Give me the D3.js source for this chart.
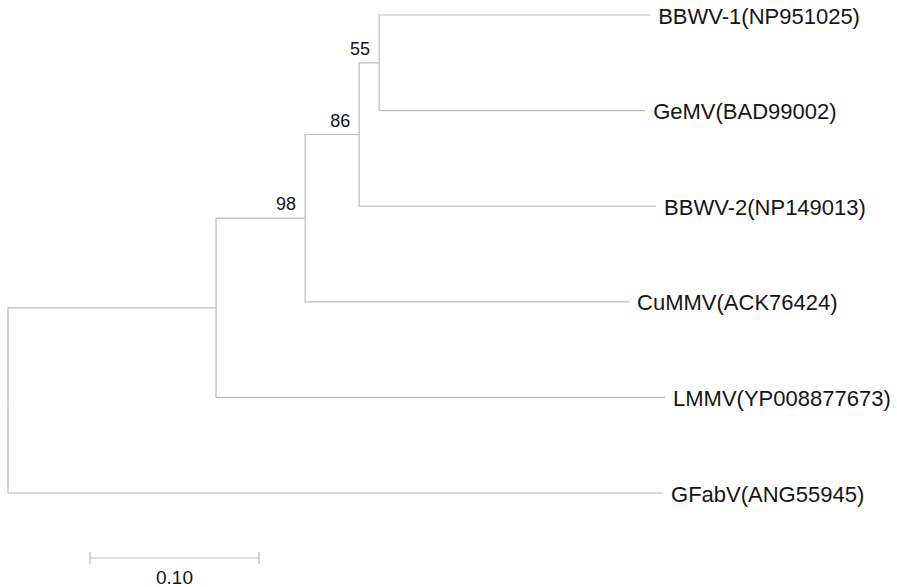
<!DOCTYPE html>
<html>
<head>
<meta charset="utf-8">
<style>
body { margin:0; background:#fff; }
svg { display:block; }
.branch { fill:none; stroke:#bdbdbd; stroke-width:1.2; }
.leaf { font-family:"Liberation Sans", Arial, Helvetica, sans-serif; font-size:22px; fill:#151515; }
.boot { font-family:"Liberation Sans", Arial, Helvetica, sans-serif; font-size:18px; fill:#151515; }
</style>
<script src="https://cdn.jsdelivr.net/npm/d3@7/dist/d3.min.js"></script>
</head>
<body>
<div id="tree"></div>
<script>
var width = 897
var height = 587

// tree as parent links, branch lengths (substitutions/site), bootstrap
var nodeIds = ["root", "n1", "n98", "n86", "n55",
  "BBWV-1(NP951025)", "GeMV(BAD99002)", "BBWV-2(NP149013)",
  "CuMMV(ACK76424)", "LMMV(YP008877673)", "GFabV(ANG55945)"]
var parentIds = ["", "root", "n1", "n98", "n86",
  "n55", "n55", "n86", "n98", "n1", "root"]
var branchLengths = [0, 0.1231, 0.0527, 0.0320, 0.0118,
  0.1604, 0.1574, 0.1757, 0.1917, 0.2657, 0.3876]
var bootstrap = [null, null, 98, 86, 55, null, null, null, null, null, null]
var scaleBarValue = 0.10
var scaleBarLabel = "0.10"

var rows = nodeIds.map(function(id, i) {
  return { id: id, parent: parentIds[i], len: branchLengths[i], boot: bootstrap[i] }
})

var root = d3.stratify()
  .id(function(d) { return d.id })
  .parentId(function(d) { return d.parent || null })(rows)

// cumulative distance from root
root.eachBefore(function(n) {
  n.dist = n.parent ? n.parent.dist + n.data.len : 0
})

var x = d3.scaleLinear()
  .domain([0, 0.1])
  .range([8, 177])

var leaves = root.leaves()
var y = d3.scalePoint()
  .domain(leaves.map(function(d) { return d.id }))
  .range([15, 493])

root.eachAfter(function(n) {
  n.px = x(n.dist)
  if (!n.children) n.py = y(n.id)
  else n.py = (n.children[0].py + n.children[n.children.length - 1].py) / 2
})

var svg = d3.select('#tree').append("svg")
  .attr("width", width)
  .attr("height", height)

svg.append("g").selectAll("path")
  .data(root.descendants().slice(1))
  .enter().append("path")
  .attr("class", "branch")
  .attr("d", function(d) {
    return "M" + d.parent.px + "," + d.parent.py + "V" + d.py + "H" + d.px
  })

svg.append("g").selectAll("text")
  .data(leaves)
  .enter().append("text")
  .attr("class", "leaf")
  .attr("x", function(d) { return d.px + 8 })
  .attr("y", function(d) { return d.py + 8.5 })
  .text(function(d) { return d.id })

svg.append("g").selectAll("text")
  .data(root.descendants().filter(function(d) { return d.data.boot != null }))
  .enter().append("text")
  .attr("class", "boot")
  .attr("text-anchor", "end")
  .attr("x", function(d) { return d.px - 9 })
  .attr("y", function(d) { return d.py - 8 })
  .text(function(d) { return d.data.boot })

// scale bar
var sb = svg.append("g").attr("transform", "translate(" + (90 - x(0)) + ",558)")
var x0 = x(0), x1 = x(scaleBarValue)
sb.append("path")
  .attr("class", "branch")
  .attr("d", "M" + x0 + ",0H" + x1 + "M" + x0 + ",-6V6M" + x1 + ",-6V6")
sb.append("text")
  .attr("class", "boot")
  .style("font-size", "19px")
  .attr("text-anchor", "middle")
  .attr("x", (x0 + x1) / 2)
  .attr("y", 26)
  .text(scaleBarLabel)
</script>
</body>
</html>
